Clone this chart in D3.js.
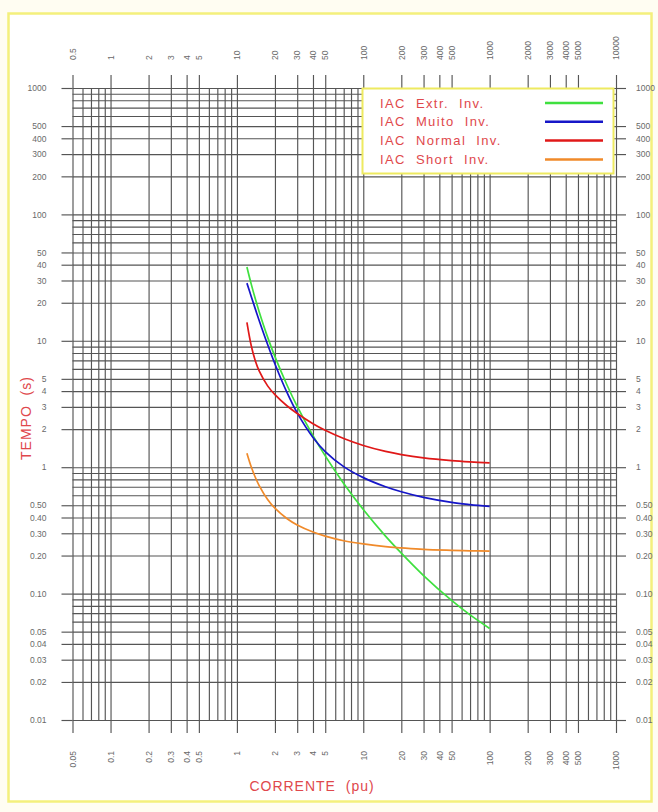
<!DOCTYPE html>
<html>
<head>
<meta charset="utf-8">
<script src="https://cdn.jsdelivr.net/npm/d3@7"></script>
<style>
  html, body { margin: 0; padding: 0; background: #ffffff; }
  svg { display: block; font-family: "Liberation Sans", Arial, sans-serif; }
</style>
</head>
<body>
<svg id="chart" width="658" height="812"></svg>
<script>
// ---- data ----
const multiples = [1.2, 1.3, 1.4, 1.5, 1.75, 2, 2.5, 3, 4, 5, 7, 10, 15, 20, 30, 50, 70, 100];
const extrInv   = [38.4, 27.95, 21.39, 17.0, 10.69, 7.49, 4.43, 3.03, 1.78, 1.23, 0.744, 0.463, 0.285, 0.209, 0.139, 0.0883, 0.0678, 0.053];
const muitoInv  = [28.6, 22.32, 17.81, 14.5, 9.35, 6.56, 3.87, 2.69, 1.72, 1.33, 1.01, 0.827, 0.700, 0.639, 0.577, 0.527, 0.506, 0.489];
const normalInv = [13.98, 9.10, 6.93, 5.78, 4.40, 3.75, 3.05, 2.66, 2.21, 1.96, 1.685, 1.485, 1.333, 1.258, 1.184, 1.126, 1.101, 1.082];
const shortInv  = [1.291, 1.002, 0.829, 0.716, 0.556, 0.474, 0.391, 0.349, 0.307, 0.285, 0.262, 0.247, 0.235, 0.230, 0.224, 0.220, 0.218, 0.217];

const seriesNames  = ["IAC  Extr.  Inv.", "IAC  Muito  Inv.", "IAC  Normal  Inv.", "IAC  Short  Inv."];
const seriesColors = ["#3fe03f", "#1616c8", "#e01818", "#f08a2a"];

const xTickValues  = [0.05, 0.1, 0.2, 0.3, 0.4, 0.5, 1, 2, 3, 4, 5, 10, 20, 30, 40, 50, 100, 200, 300, 400, 500, 1000];
const xTickBottom  = ["0.05", "0.1", "0.2", "0.3", "0.4", "0.5", "1", "2", "3", "4", "5", "10", "20", "30", "40", "50", "100", "200", "300", "400", "500", "1000"];
const xTickTop     = ["0.5", "1", "2", "3", "4", "5", "10", "20", "30", "40", "50", "100", "200", "300", "400", "500", "1000", "2000", "3000", "4000", "5000", "10000"];
const yTickValues  = [1000, 500, 400, 300, 200, 100, 50, 40, 30, 20, 10, 5, 4, 3, 2, 1, 0.5, 0.4, 0.3, 0.2, 0.1, 0.05, 0.04, 0.03, 0.02, 0.01];
const yTickLabels  = ["1000", "500", "400", "300", "200", "100", "50", "40", "30", "20", "10", "5", "4", "3", "2", "1", "0.50", "0.40", "0.30", "0.20", "0.10", "0.05", "0.04", "0.03", "0.02", "0.01"];

// ---- layout ----
const svg = d3.select("#chart");
const L = 72.5, R = 616, T = 88, B = 720;

const x = d3.scaleLog().domain([0.05, 1000]).range([L, R]);
const y = d3.scaleLog().domain([0.01, 1000]).range([B, T]);

// outer frame
svg.append("rect").attr("x", 0).attr("y", 0).attr("width", 658).attr("height", 812).attr("fill", "#fffdf2");
svg.append("rect").attr("x", 8.5).attr("y", 13.5).attr("width", 643).attr("height", 788)
  .attr("fill", "#ffffff").attr("stroke", "#f4f07c").attr("stroke-width", 2.5);

// grid values (1..9 x 10^k inside domains)
function logGrid(lo, hi) {
  const out = [];
  for (let k = -3; k <= 4; k++) {
    for (let m = 1; m <= 9; m++) {
      const v = +(m * Math.pow(10, k)).toPrecision(6);
      if (v >= lo * 0.9999 && v <= hi * 1.0001) out.push(v);
    }
  }
  return out;
}
const gridColor = "#555555";

svg.append("g").attr("transform", `translate(0,${B})`)
  .call(d3.axisBottom(x).tickValues(logGrid(0.05, 1000)).tickSize(-(B - T)).tickFormat(""))
  .call(g => g.select(".domain").remove())
  .call(g => g.selectAll("line").attr("stroke", gridColor).attr("stroke-width", 1.15));

svg.append("g").attr("transform", `translate(${L},0)`)
  .call(d3.axisLeft(y).tickValues(logGrid(0.01, 1000)).tickSize(-(R - L)).tickFormat(""))
  .call(g => g.select(".domain").remove())
  .call(g => g.selectAll("line").attr("stroke", gridColor).attr("stroke-width", 1.15));

// tick axes
const labColor = "#6a6a6a";
function styleAxis(g) {
  g.select(".domain").remove();
  g.selectAll("line").attr("stroke", gridColor).attr("stroke-width", 1.15);
  g.selectAll("text").attr("fill", labColor).attr("font-size", 8.5).attr("font-family", "Liberation Sans, Arial, sans-serif");
}

// left
svg.append("g").attr("transform", `translate(${L},0)`)
  .call(d3.axisLeft(y).tickValues(yTickValues).tickSize(11).tickPadding(15)
    .tickFormat((d, i) => yTickLabels[i]))
  .call(styleAxis);

// right
svg.append("g").attr("transform", `translate(${R},0)`)
  .call(d3.axisRight(y).tickValues(yTickValues).tickSize(10).tickPadding(10)
    .tickFormat((d, i) => yTickLabels[i]))
  .call(styleAxis);

// bottom
const gb = svg.append("g").attr("transform", `translate(0,${B})`)
  .call(d3.axisBottom(x).tickValues(xTickValues).tickSize(13).tickFormat((d, i) => xTickBottom[i]))
  .call(styleAxis);
gb.selectAll("text")
  .attr("transform", "rotate(-90)")
  .attr("text-anchor", "end")
  .attr("x", -31).attr("y", 0).attr("dy", "0.32em");

// top
const gt = svg.append("g").attr("transform", `translate(0,${T})`)
  .call(d3.axisTop(x).tickValues(xTickValues).tickSize(13).tickFormat((d, i) => xTickTop[i]))
  .call(styleAxis);
gt.selectAll("text")
  .attr("transform", "rotate(-90)")
  .attr("text-anchor", "start")
  .attr("x", 28).attr("y", 0).attr("dy", "0.32em");

// curves
const allSeries = [extrInv, muitoInv, normalInv, shortInv];
const line = d3.line().x(d => x(d[0])).y(d => y(d[1])).curve(d3.curveCatmullRom.alpha(0.5));
allSeries.forEach((vals, i) => {
  svg.append("path")
    .datum(multiples.map((m, j) => [m, vals[j]]))
    .attr("fill", "none")
    .attr("stroke", seriesColors[i])
    .attr("stroke-width", 1.7)
    .attr("d", line);
});

// legend
const lg = svg.append("g");
lg.append("rect").attr("x", 362.5).attr("y", 88.5).attr("width", 251).attr("height", 85)
  .attr("fill", "#ffffff").attr("stroke", "#eeea60").attr("stroke-width", 2);
seriesNames.forEach((n, i) => {
  const yy = 103 + i * 18.8;
  lg.append("text").attr("x", 380).attr("y", yy).attr("dy", "0.36em")
    .attr("fill", "#e0484c").attr("font-size", 13).attr("letter-spacing", 1.4)
    .style("white-space", "pre").text(n);
  lg.append("line").attr("x1", 545).attr("x2", 603).attr("y1", yy).attr("y2", yy)
    .attr("stroke", seriesColors[i]).attr("stroke-width", 2.5);
});

// axis titles
svg.append("text").attr("x", 312).attr("y", 786).attr("dy", "0.36em")
  .attr("text-anchor", "middle").attr("fill", "#e0484c").attr("font-size", 14)
  .attr("letter-spacing", 1).style("white-space", "pre").text("CORRENTE  (pu)");

svg.append("text").attr("transform", "translate(26,418) rotate(-90)").attr("dy", "0.36em")
  .attr("text-anchor", "middle").attr("fill", "#e0484c").attr("font-size", 14)
  .attr("letter-spacing", 1).style("white-space", "pre").text("TEMPO  (s)");
</script>
</body>
</html>
